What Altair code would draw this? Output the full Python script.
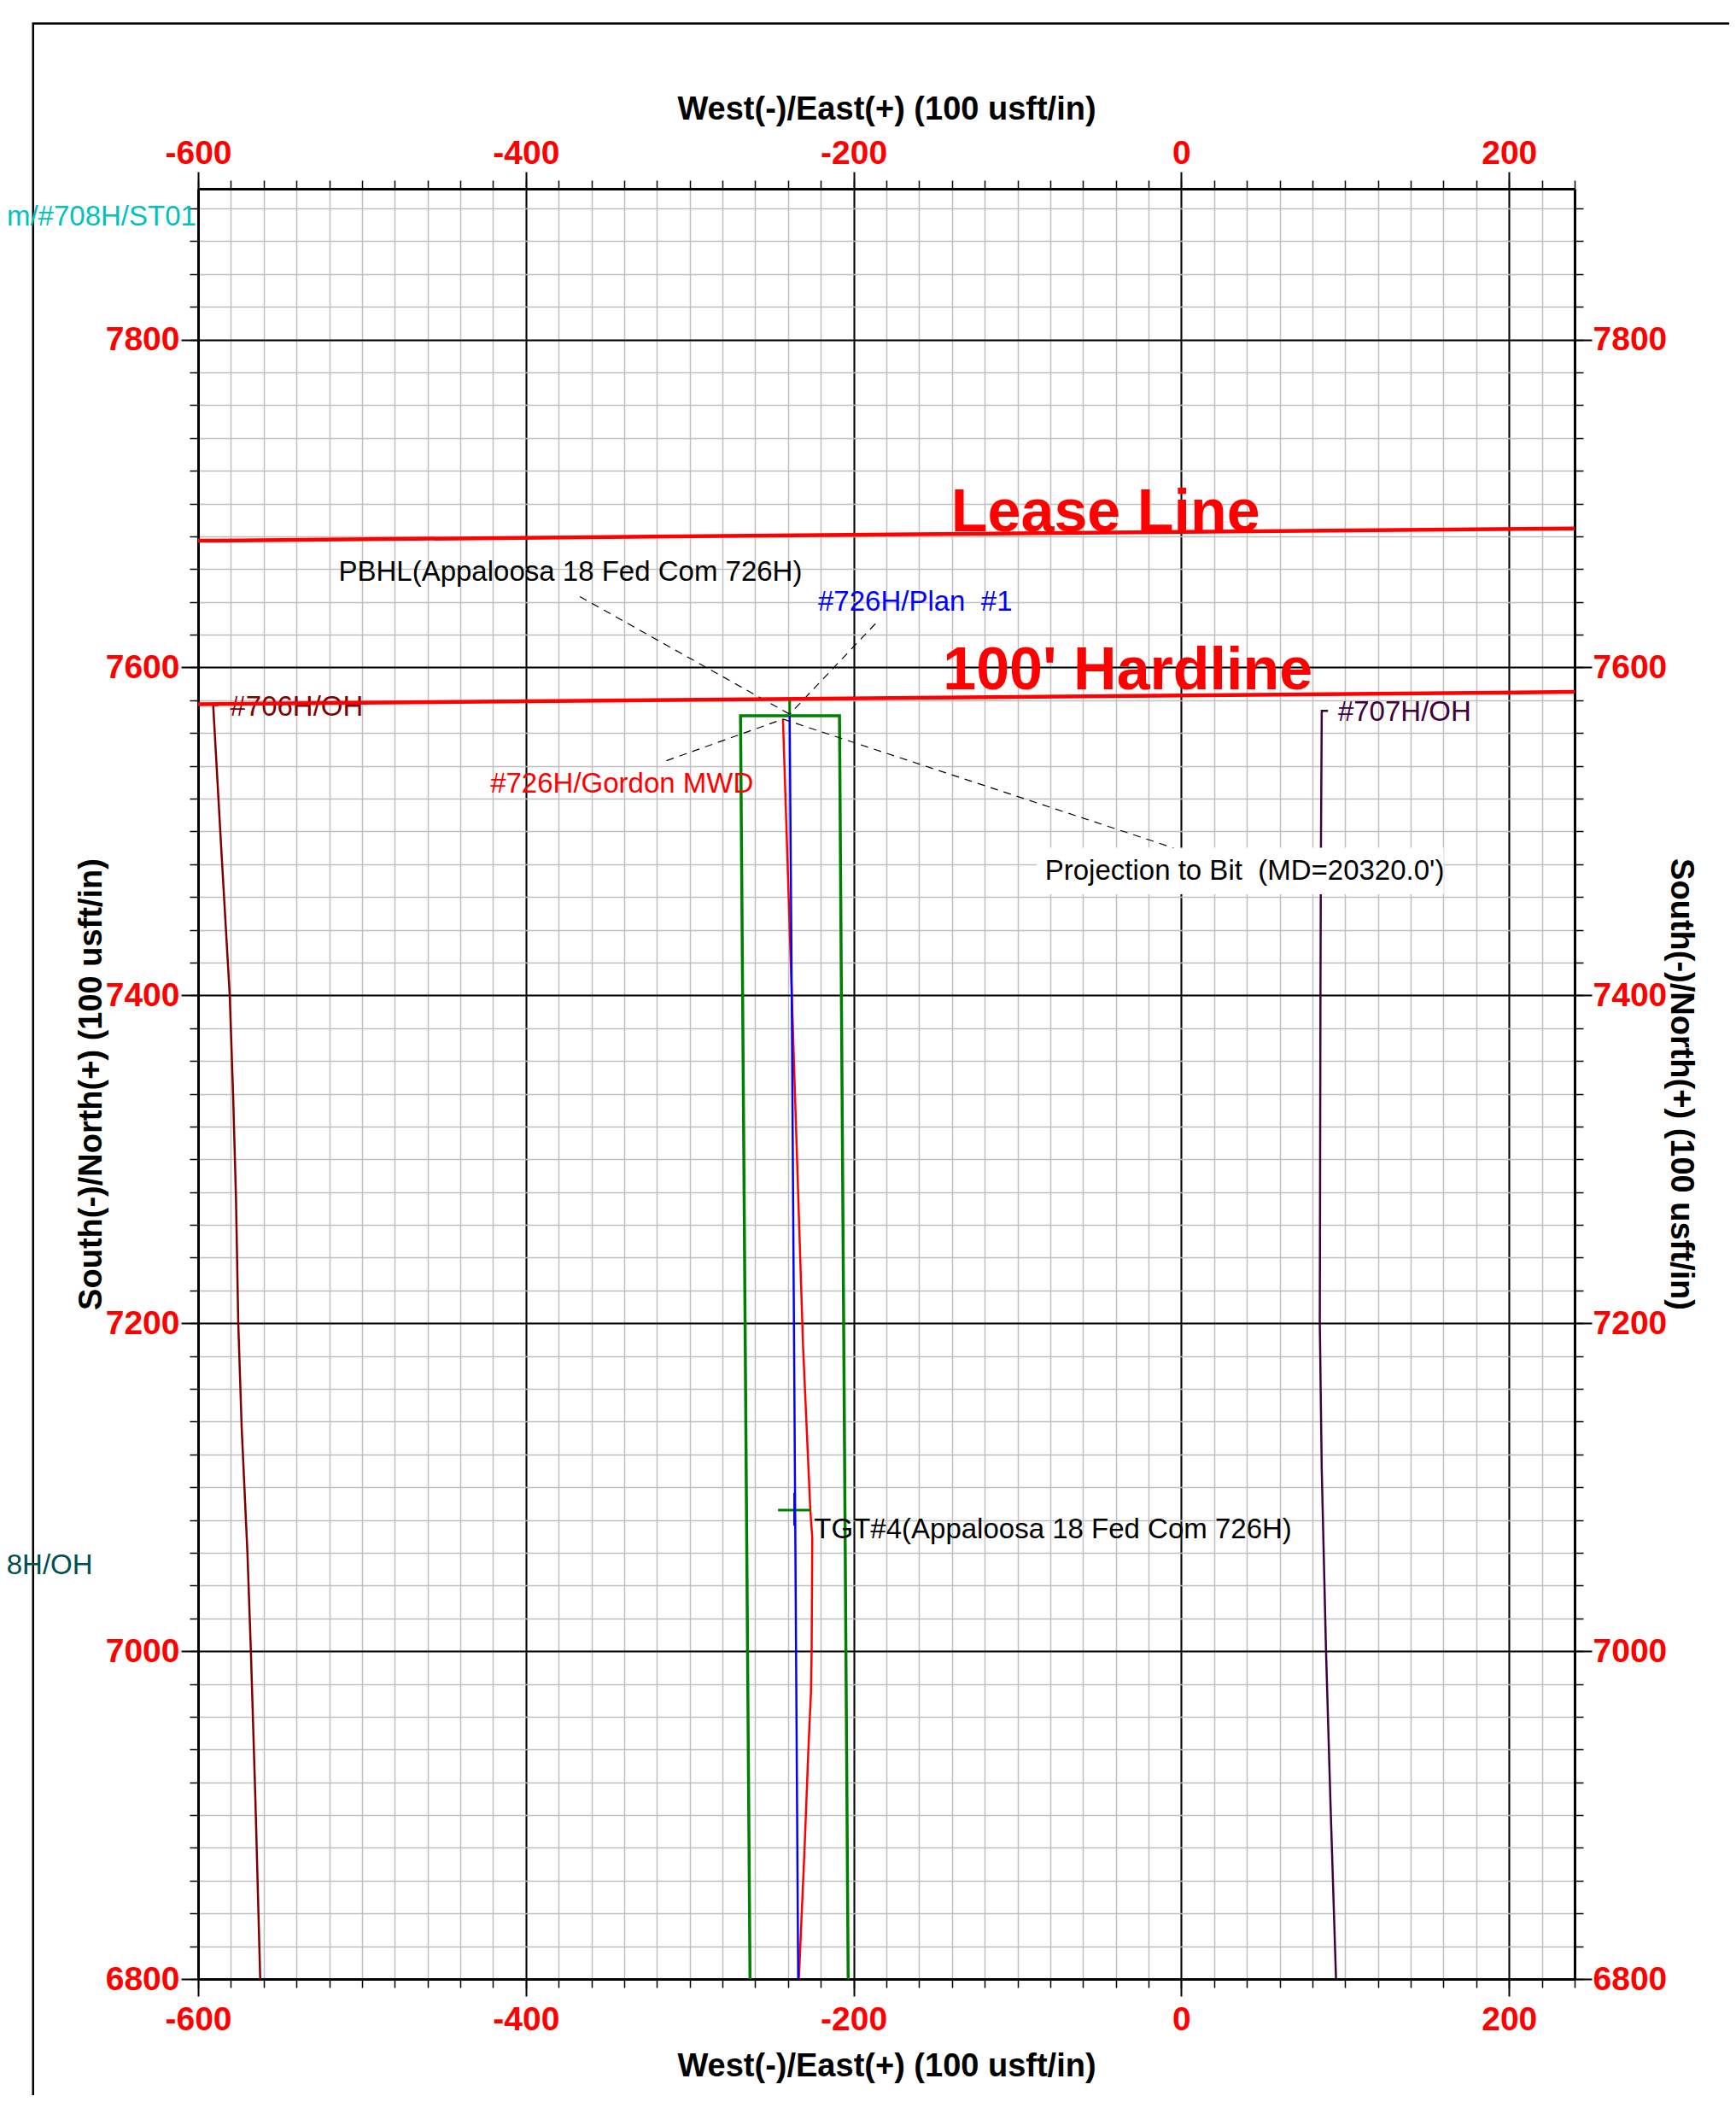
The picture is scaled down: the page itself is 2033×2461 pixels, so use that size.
import altair as alt
import pandas as pd

FONT = "Liberation Sans"
X_DOMAIN = [-600, 240]
Y_DOMAIN = [6800, 7892]

# ---- tick values ----
x_major = [-600, -400, -200, 0, 200]
y_major = [6800, 7000, 7200, 7400, 7600, 7800]
x_minor = list(range(-600, 241, 20))
y_minor = list(range(6800, 7881, 20))

# ---- series ----
lease_x = [-600, 240]
lease_y = [7677.3, 7684.8]
hard_x = [-600, 240]
hard_y = [7577.6, 7585.1]

box_x = [-263.2, -269.0, -208.6, -203.3]
box_y = [6800, 7570.5, 7570.5, 6800]

plan_x = [-239.0, -237.6, -236.3, -235.1, -233.8]
plan_y = [7570.5, 7380, 7185, 7000, 6800]

mwd_x = [-243.1, -237.7, -230.8, -226.4, -225.2, -225.6, -226.0, -227.5, -229.9, -233.4]
mwd_y = [7568.5, 7400, 7185, 7086, 7069, 7000, 6975, 6942, 6880, 6800]

w706_x = [-587.8, -590.8, -585.9, -580.7, -578.6, -576.9, -575.5, -573.4, -569.9, -567.8, -565.0, -562.1]
w706_y = [7577.0, 7577.0, 7490, 7400, 7338, 7277, 7200, 7136, 7060, 7000, 6908, 6800]

w707_x = [89.5, 85.7, 85.2, 84.9, 84.5, 85.7, 88.3, 91.0, 94.4]
w707_y = [7573.5, 7573.5, 7490, 7400, 7200, 7110, 7000, 6908, 6800]

pbhl_tick_x = [-239.0, -239.0]
pbhl_tick_y = [7570.5, 7580.5]
tgt_h_x = [-246.1, -226.4]
tgt_h_y = [7086.0, 7086.0]
tgt_v_x = [-236.0, -236.0]
tgt_v_y = [7096.6, 7076.5]

leader_seg = ["pbhl", "pbhl", "plan", "plan", "mwd", "mwd", "bit", "bit"]
leader_x = [-367.0, -239.0, -186.7, -239.0, -314.2, -243.1, -243.1, -4.4]
leader_y = [7643.2, 7571.5, 7626.7, 7571.5, 7543.1, 7568.5, 7568.5, 7489.8]

# white label box behind "Projection to Bit"
bitbox = {"x": [-88.4], "x2": [160.1], "y": [7461.7], "y2": [7490.0]}
# page frame
frame = {"x": [-700.7], "x2": [600.0], "y": [7992.8], "y2": [6500.0]}

NB = "\u00a0"
label_text = [
    "PBHL(Appaloosa 18 Fed Com 726H)",
    "#726H/Plan" + NB + " #1",
    "#726H/Gordon MWD",
    "#706H/OH",
    "#707H/OH",
    "Projection to Bit" + NB + " (MD=20320.0')",
    "TGT#4(Appaloosa 18 Fed Com 726H)",
]
label_x = [-514.3, -221.7, -421.7, -580.5, 95.6, -83.2, -224.1]
label_y = [7652.7, 7634.5, 7523.5, 7570.7, 7567.5, 7470.7, 7069.0]
label_color = ["#000000", "#0000FF", "#FF0000", "#800000", "#400040", "#000000", "#000000"]

out_text = ["Appaloosa 18 Fed Com/#708H/ST01", "#708H/OH"]
out_x = [-601.1, -664.3]
out_y = [7869.8, 7046.8]
out_color = ["#00C0C0", "#005050"]

big_text = ["Lease Line", "100' Hardline"]
big_x = [-140.5, -145.5]
big_y = [7683.0, 7586.5]


def path_df(xs, ys):
    return pd.DataFrame({"x": xs, "y": ys, "i": list(range(len(xs)))})


def X(axis=None):
    sc = alt.Scale(domain=X_DOMAIN, nice=False, zero=False)
    if axis is None:
        return alt.X("x:Q", scale=sc, axis=None)
    return alt.X("x:Q", scale=sc, axis=axis)


def Y(axis=None):
    sc = alt.Scale(domain=Y_DOMAIN, nice=False, zero=False)
    if axis is None:
        return alt.Y("y:Q", scale=sc, axis=None)
    return alt.Y("y:Q", scale=sc, axis=axis)


def minor_axis(values, orient, grid):
    return alt.Axis(
        values=values, orient=orient, grid=grid, gridColor="#C0C0C0", gridWidth=1.5,
        ticks=True, tickSize=10, tickColor="#000000", tickWidth=1.5,
        labels=False, domain=False, title=None,
    )


def major_axis(values, orient, grid, title, pad, **kw):
    return alt.Axis(
        values=values, orient=orient, grid=grid, gridColor="#000000", gridWidth=2,
        ticks=True, tickSize=20, tickColor="#000000", tickWidth=2,
        labels=True, labelColor="#FF0000", labelFont=FONT, labelFontSize=39,
        labelFontWeight="bold", labelFlush=False, labelOverlap=False, labelPadding=pad,
        labelExpr="'' + datum.value",
        domain=True, domainColor="#000000", domainWidth=3,
        title=title, titleFont=FONT, titleFontSize=38, titleFontWeight="bold",
        titleColor="#000000", **kw,
    )


carrier = pd.DataFrame({"x": [0.0], "y": [7000.0]})
XT = "West(-)/East(+) (100 usft/in)"
YT = "South(-)/North(+) (100 usft/in)"

axA = alt.Chart(carrier).mark_point(opacity=0).encode(
    x=X(minor_axis(x_minor, "bottom", True)), y=Y(minor_axis(y_minor, "left", True)))
axB = alt.Chart(carrier).mark_point(opacity=0).encode(
    x=X(minor_axis(x_minor, "top", False)), y=Y(minor_axis(y_minor, "right", False)))
axC = alt.Chart(carrier).mark_point(opacity=0).encode(
    x=X(major_axis(x_major, "bottom", True, XT, 8, titleY=83)),
    y=Y(major_axis(y_major, "left", True, YT, 2, titleX=-105.5)))
axD = alt.Chart(carrier).mark_point(opacity=0).encode(
    x=X(major_axis(x_major, "top", False, XT, 2, titleY=-73.4)),
    y=Y(major_axis(y_major, "right", False, YT, 1, titleX=104)))


def line(xs, ys, color, width, dash=None):
    kw = dict(color=color, strokeWidth=width)
    if dash:
        kw["strokeDash"] = dash
    return alt.Chart(path_df(xs, ys)).mark_line(**kw).encode(
        x=X(), y=Y(), order=alt.Order("i:Q"))


frame_layer = alt.Chart(pd.DataFrame(frame)).mark_rect(
    fillOpacity=0, stroke="#000000", strokeWidth=2.5).encode(
    x=X(), x2="x2:Q", y=Y(), y2="y2:Q")

leaders = alt.Chart(pd.DataFrame({
    "x": leader_x, "y": leader_y, "seg": leader_seg, "i": list(range(len(leader_x)))
})).mark_line(color="#000000", strokeWidth=1.2, strokeDash=[9, 7]).encode(
    x=X(), y=Y(), detail="seg:N", order=alt.Order("i:Q"))

box_bg = alt.Chart(pd.DataFrame(bitbox)).mark_rect(color="#FFFFFF").encode(
    x=X(), x2="x2:Q", y=Y(), y2="y2:Q")

labels = alt.Chart(pd.DataFrame({
    "x": label_x, "y": label_y, "t": label_text, "c": label_color
})).mark_text(align="left", baseline="alphabetic", font=FONT, fontSize=33).encode(
    x=X(), y=Y(), text="t:N", color=alt.Color("c:N", scale=None))

out_labels = alt.Chart(pd.DataFrame({
    "x": out_x, "y": out_y, "t": out_text, "c": out_color
})).mark_text(align="right", baseline="alphabetic", font=FONT, fontSize=33).encode(
    x=X(), y=Y(), text="t:N", color=alt.Color("c:N", scale=None))

big_labels = alt.Chart(pd.DataFrame({
    "x": big_x, "y": big_y, "t": big_text
})).mark_text(align="left", baseline="alphabetic", font=FONT, fontSize=70,
              fontWeight="bold", color="#FF0000").encode(
    x=X(), y=Y(), text="t:N")

chart = alt.layer(
    axA, axB, axC, axD,
    frame_layer,
    line(w706_x, w706_y, "#800000", 2.5),
    line(w707_x, w707_y, "#400040", 2.5),
    line(box_x, box_y, "#008000", 3.5),
    line(pbhl_tick_x, pbhl_tick_y, "#008000", 3),
    line(mwd_x, mwd_y, "#FF0000", 2.5),
    line(plan_x, plan_y, "#0000FF", 2.5),
    line(tgt_h_x, tgt_h_y, "#008000", 3),
    line(tgt_v_x, tgt_v_y, "#0000FF", 3),
    leaders,
    box_bg,
    labels,
    out_labels,
    big_labels,
    line(lease_x, lease_y, "#FF0000", 4.5),
    line(hard_x, hard_y, "#FF0000", 4.5),
).resolve_scale(x="shared", y="shared").resolve_axis(
    x="independent", y="independent"
).properties(
    width=1612, height=2096,
    autosize=alt.AutoSizeParams(type="none"),
    padding={"left": 224, "top": 213, "right": 181, "bottom": 136},
).configure_view(strokeWidth=0).configure(font=FONT)

chart.save("out.html", embed_options={"renderer": "svg", "actions": False})
